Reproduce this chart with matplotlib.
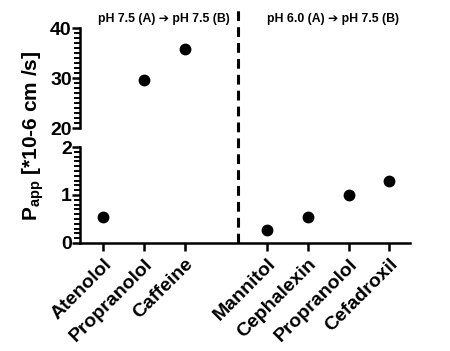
import matplotlib
matplotlib.use("Agg")
import matplotlib.pyplot as plt
from matplotlib.ticker import MultipleLocator

plt.rcParams["font.family"] = ["Liberation Sans", "DejaVu Sans"]
plt.rcParams["font.weight"] = "bold"
plt.rcParams["mathtext.fontset"] = "custom"
plt.rcParams["mathtext.rm"] = "Liberation Sans:bold"
plt.rcParams["mathtext.bf"] = "Liberation Sans:bold"

# data
compounds = ["Atenolol", "Propranolol", "Caffeine",
             "Mannitol", "Cephalexin", "Propranolol", "Cefadroxil"]
x_pos = [0, 1, 2, 4, 5, 6, 7]
papp = [0.53, 29.7, 35.8, 0.27, 0.55, 0.99, 1.3]
group_labels = ["pH 7.5 (A) \u2794 pH 7.5 (B)", "pH 6.0 (A) \u2794 pH 7.5 (B)"]
group_centers = [1.49, 5.63]
divider_x = 3.3

fig = plt.figure(figsize=(4.5, 3.51), dpi=100)
ax_top = fig.add_axes([0.178, 0.635, 0.733, 0.285])
ax_bot = fig.add_axes([0.178, 0.308, 0.733, 0.273])

ax_top.set_ylim(20, 40)
ax_top.set_yticks([20, 30, 40])
ax_top.yaxis.set_minor_locator(MultipleLocator(1))
ax_top.spines["bottom"].set_visible(False)
ax_top.set_xticks([])

ax_bot.set_ylim(0, 2)
ax_bot.set_yticks([0, 1, 2])
ax_bot.yaxis.set_minor_locator(MultipleLocator(0.1))
ax_bot.spines["bottom"].set_linewidth(1.8)
ax_bot.set_xticks(x_pos)
ax_bot.set_xticklabels(compounds, rotation=45, ha="right", rotation_mode="anchor",
                       fontsize=14, fontweight="bold")
ax_bot.tick_params(axis="x", direction="out", length=6, width=1.8, pad=3)

for ax in (ax_top, ax_bot):
    ax.plot(x_pos, papp, "o", color="black", ms=7.5, ls="none")
    ax.set_xlim(-0.56, 7.5)
    for s in ("top", "right"):
        ax.spines[s].set_visible(False)
    ax.spines["left"].set_linewidth(1.8)
    ax.tick_params(axis="y", which="major", direction="out", length=6, width=1.8,
                   labelsize=14, pad=0)
    ax.tick_params(axis="y", which="minor", direction="out", length=4.5, width=1.4,
                   color="black")

# dashed separator running from the x axis up to the top of the figure
ax_bot.axvline(divider_x, ymin=0, ymax=2.45, color="black", lw=2.2,
               ls=(0, (3.2, 2.0)), clip_on=False)

for lab, cx in zip(group_labels, group_centers):
    ax_top.text(cx, 1.09, lab, transform=ax_top.get_xaxis_transform(),
                ha="center", va="center", fontsize=8.8, fontweight="bold")

fig.text(0.073, 0.613, r"$\mathbf{P}_{\mathbf{app}}$ [*10-6 cm /s]", rotation=90,
         ha="center", va="center", fontsize=15, fontweight="bold")

fig.savefig("out.png", dpi=100)
